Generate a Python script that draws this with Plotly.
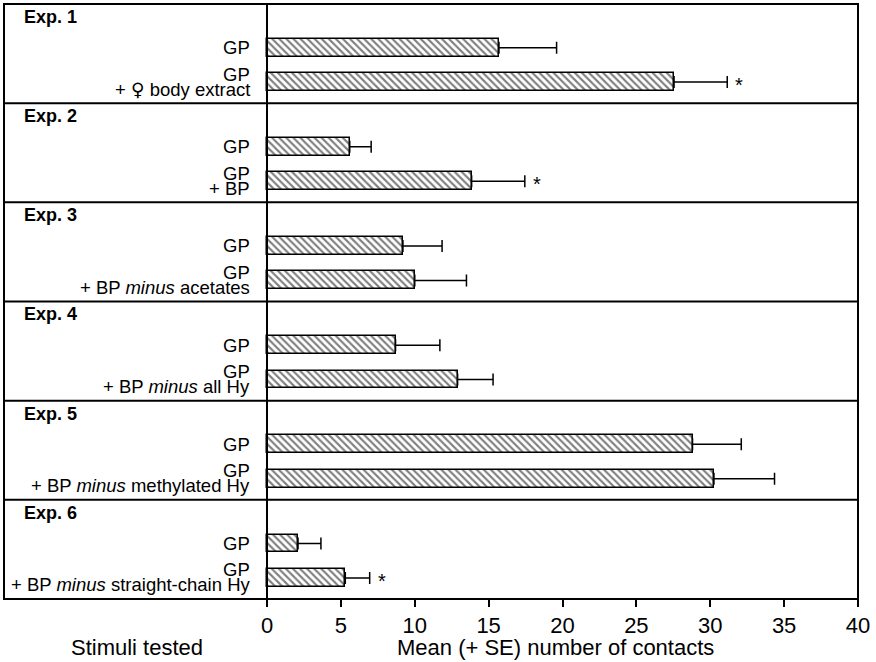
import plotly.graph_objects as go

experiments = ["Exp. 1", "Exp. 2", "Exp. 3", "Exp. 4", "Exp. 5", "Exp. 6"]
control_label = "GP"
treatment_labels = [
    "+ <span style=\"font-family:'DejaVu Sans'\">\u2640</span> body extract",
    "+ BP",
    "+ BP <i>minus</i> acetates",
    "+ BP <i>minus</i> all Hy",
    "+ BP <i>minus</i> methylated Hy",
    "+ BP <i>minus</i> straight-chain Hy",
]
gp_mean = [15.7, 5.6, 9.2, 8.7, 28.8, 2.1]
gp_se = [3.9, 1.45, 2.65, 3.0, 3.3, 1.55]
trt_mean = [27.55, 13.85, 10.0, 12.9, 30.25, 5.3]
trt_se = [3.6, 3.6, 3.5, 2.4, 4.1, 1.65]
significant = [True, True, False, False, False, True]
x_ticks = [0, 5, 10, 15, 20, 25, 30, 35, 40]

FONT = "Liberation Sans, Arial, Helvetica, sans-serif"
n = len(experiments)
OFF1, OFF2 = 0.44, 0.787

ys, xs, es = [], [], []
for i in range(n):
    ys += [i + OFF1, i + OFF2]
    xs += [gp_mean[i], trt_mean[i]]
    es += [gp_se[i], trt_se[i]]

fig = go.Figure()
fig.add_trace(go.Bar(
    orientation="h", y=ys, x=xs, width=0.18,
    marker=dict(color="white", line=dict(color="black", width=1.5),
                pattern=dict(shape="\\", fgcolor="black", bgcolor="white", size=5, solidity=0.42)),
    error_x=dict(type="data", symmetric=False, array=es, arrayminus=[0] * len(es),
                 color="black", thickness=1.5, width=6),
    showlegend=False, hoverinfo="skip",
))

ann = []
shapes = []
LBL = 18.5
for i in range(n):
    ann.append(dict(x=0.021, xref="paper", y=i + 0.13, yref="y", text="<b>%s</b>" % experiments[i],
                    showarrow=False, xanchor="left", yanchor="middle", font=dict(size=18)))
    ann.append(dict(x=0, xref="x", y=i + OFF1, yref="y", text=control_label, xshift=-15,
                    showarrow=False, xanchor="right", yanchor="middle", font=dict(size=LBL)))
    ann.append(dict(x=0, xref="x", y=i + OFF2, yref="y", text=control_label, xshift=-15, yshift=8,
                    showarrow=False, xanchor="right", yanchor="middle", font=dict(size=LBL)))
    ann.append(dict(x=0, xref="x", y=i + OFF2, yref="y", text=treatment_labels[i], xshift=-15, yshift=-7,
                    showarrow=False, xanchor="right", yanchor="middle", font=dict(size=LBL)))
    if significant[i]:
        ann.append(dict(x=trt_mean[i] + trt_se[i], xref="x", y=i + OFF2, yref="y", text="*",
                        xshift=6, yshift=-3, showarrow=False, xanchor="left", yanchor="middle",
                        font=dict(size=20)))
    if i > 0:
        shapes.append(dict(type="line", xref="paper", x0=0, x1=1, yref="y", y0=i, y1=i,
                           line=dict(color="black", width=2)))

shapes.append(dict(type="rect", xref="paper", yref="paper", x0=0, x1=1, y0=0, y1=1,
                   line=dict(color="black", width=2)))
shapes.append(dict(type="line", xref="x", x0=0, x1=0, yref="paper", y0=0, y1=1,
                   line=dict(color="black", width=2)))

ann.append(dict(x=(137 - 4) / 854, xref="paper", y=-0.082, yref="paper", text="Stimuli tested",
                showarrow=False, xanchor="center", yanchor="middle", font=dict(size=22)))
ann.append(dict(x=(555 - 4) / 854, xref="paper", y=-0.082, yref="paper",
                text="Mean (+ SE) number of contacts",
                showarrow=False, xanchor="center", yanchor="middle", font=dict(size=22)))

fig.update_layout(
    width=876, height=662,
    margin=dict(l=4, r=18, t=4, b=63),
    paper_bgcolor="white", plot_bgcolor="white",
    font=dict(family=FONT, color="black", size=18),
    xaxis=dict(range=[-17.8, 40], tickvals=x_ticks, ticktext=[str(t) for t in x_ticks],
               ticks="outside", ticklen=7, tickwidth=1.5, tickcolor="black",
               showgrid=False, zeroline=False, showline=False,
               tickfont=dict(size=22, family=FONT, color="black")),
    yaxis=dict(range=[n, 0], showticklabels=False, showgrid=False, zeroline=False,
               showline=False, ticks=""),
    annotations=ann, shapes=shapes, bargap=0,
)

fig.write_html("out.html", config={"displayModeBar": False},
               post_script="document.body.style.margin='0';document.body.style.overflow='hidden';")
